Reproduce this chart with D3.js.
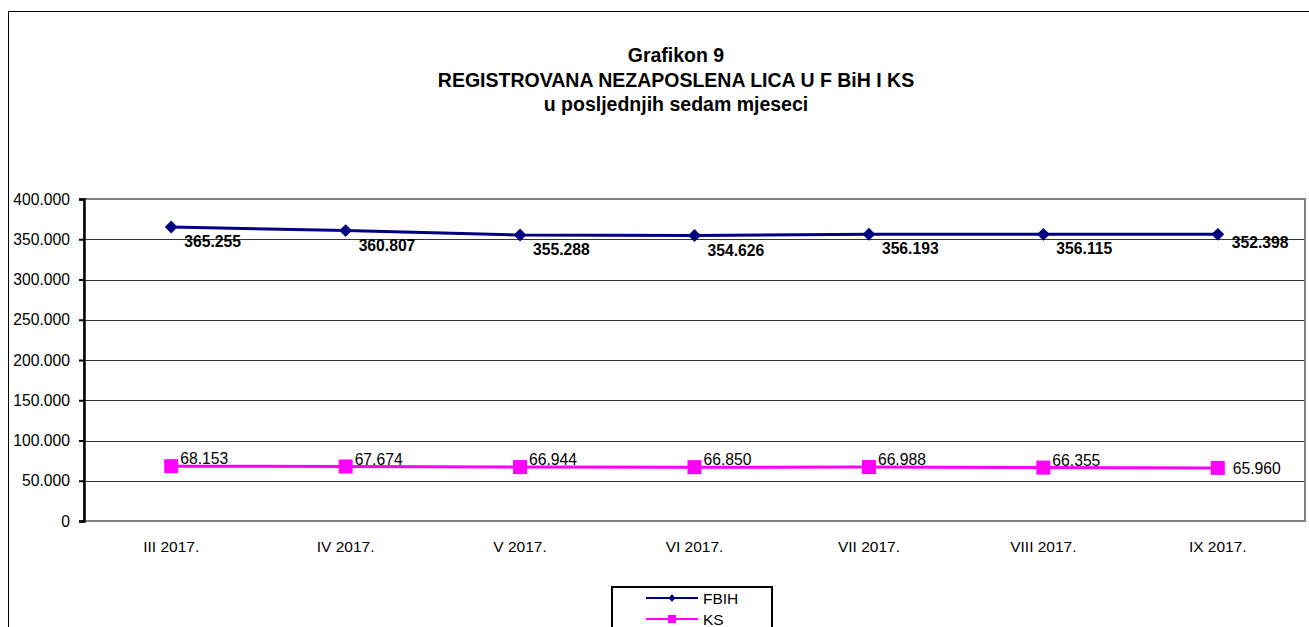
<!DOCTYPE html>
<html lang="bs">

<head>
  <meta charset="UTF-8">
  <title>Grafikon 9</title>
  <script src="https://cdn.jsdelivr.net/npm/d3@7.6.1/dist/d3.min.js"></script>
  <style>
    body { margin: 0; background: #fff; }
    svg { display: block; font-family: Arial, "Liberation Sans", sans-serif; }
  </style>
</head>

<body>
  <div id="box"></div>
  <script>
    const width = 1309
    const height = 627
    const margin = { left: 84, right: 4, top: 199, bottom: 106 }

    // podaci
    const months = ['III 2017.', 'IV 2017.', 'V 2017.', 'VI 2017.', 'VII 2017.', 'VIII 2017.', 'IX 2017.']
    // zadnja tacka je na grafu nacrtana oko 356.100, iako oznaka kaze 352.398
    const fbih = [365255, 360807, 355288, 354626, 356193, 356115, 356100]
    const fbihLabels = ['365.255', '360.807', '355.288', '354.626', '356.193', '356.115', '352.398']
    const ks = [68153, 67674, 66944, 66850, 66988, 66355, 65960]
    const ksLabels = ['68.153', '67.674', '66.944', '66.850', '66.988', '66.355', '65.960']
    const yTicks = [0, 50000, 100000, 150000, 200000, 250000, 300000, 350000, 400000]
    const titleLines = ['Grafikon 9', 'REGISTROVANA NEZAPOSLENA LICA U F BiH I KS', 'u posljednjih sedam mjeseci']

    const loc = d3.formatLocale({ decimal: ',', thousands: '.', grouping: [3], currency: ['', ''] })
    const fmt = loc.format(',')

    const svg = d3.select('#box').append('svg')
      .attr('width', width)
      .attr('height', height)

    // vanjski okvir
    svg.append('rect')
      .attr('x', 8.5).attr('y', 11.5)
      .attr('width', 1310).attr('height', 700)
      .attr('fill', 'none').attr('stroke', '#000').attr('stroke-width', 1)

    // naslov
    svg.append('g').selectAll('text').data(titleLines).join('text')
      .attr('x', 676)
      .attr('y', (d, i) => 62 + i * 24.5)
      .attr('text-anchor', 'middle')
      .attr('font-weight', 'bold')
      .attr('font-size', 19.5)
      .text(d => d)

    const xScale = d3.scaleBand().domain(months).range([margin.left, width - margin.right])
    const yScale = d3.scaleLinear().domain([0, 400000]).range([height - margin.bottom, margin.top])
    const cx = d => xScale(d) + xScale.bandwidth() / 2

    // mreža
    svg.append('g').selectAll('line').data(yTicks.slice(1, -1)).join('line')
      .attr('x1', margin.left).attr('x2', width - margin.right)
      .attr('y1', d => Math.round(yScale(d)) + 0.5).attr('y2', d => Math.round(yScale(d)) + 0.5)
      .attr('stroke', '#333').attr('stroke-width', 1)

    // okvir plota (sivi)
    svg.append('rect')
      .attr('x', margin.left).attr('y', margin.top)
      .attr('width', width - margin.right - margin.left)
      .attr('height', height - margin.bottom - margin.top)
      .attr('fill', 'none').attr('stroke', '#808080').attr('stroke-width', 2)

    // Y osa
    const yAxis = d3.axisLeft(yScale).tickValues(yTicks).tickFormat(fmt).tickSize(5).tickPadding(9)
    const gy = svg.append('g')
      .attr('transform', `translate(${margin.left},0)`)
      .call(yAxis)
    gy.select('.domain').attr('stroke', '#000').attr('stroke-width', 2.5)
    gy.selectAll('.tick line').attr('stroke', '#000').attr('stroke-width', 2)
    gy.selectAll('.tick text')
      .attr('font-size', 15.7).attr('font-family', 'Arial, "Liberation Sans", sans-serif').attr('fill', '#000')

    // X osa
    const xAxis = d3.axisBottom(xScale).tickSize(0).tickPadding(20)
    const gx = svg.append('g')
      .attr('transform', `translate(0,${height - margin.bottom})`)
      .call(xAxis)
    gx.select('.domain').remove()
    gx.selectAll('.tick text')
      .attr('font-size', 15.5).attr('font-family', 'Arial, "Liberation Sans", sans-serif').attr('fill', '#000')

    const line = d3.line().x((d, i) => cx(months[i])).y(d => yScale(d))
    const last = months.length - 1

    // FBIH
    svg.append('path').datum(fbih)
      .attr('d', line).attr('fill', 'none').attr('stroke', '#000080').attr('stroke-width', 3)
    svg.append('g').selectAll('path').data(fbih).join('path')
      .attr('d', d3.symbol(d3.symbolDiamond2, 105))
      .attr('transform', (d, i) => `translate(${cx(months[i])},${yScale(d)})`)
      .attr('fill', '#000080')
    svg.append('g').selectAll('text').data(fbih).join('text')
      .attr('x', (d, i) => cx(months[i]) + (i === last ? 14 : 13))
      .attr('y', (d, i) => yScale(d) + (i === last ? 14 : 20))
      .attr('font-size', 15.7).attr('font-weight', 'bold')
      .text((d, i) => fbihLabels[i])

    // KS
    svg.append('path').datum(ks)
      .attr('d', line).attr('fill', 'none').attr('stroke', '#ff00ff').attr('stroke-width', 3)
    svg.append('g').selectAll('rect').data(ks).join('rect')
      .attr('x', (d, i) => cx(months[i]) - 7)
      .attr('y', d => yScale(d) - 7)
      .attr('width', 14).attr('height', 14)
      .attr('fill', '#ff00ff')
    svg.append('g').selectAll('text').data(ks).join('text')
      .attr('x', (d, i) => cx(months[i]) + (i === last ? 15 : 9))
      .attr('y', (d, i) => yScale(d) + (i === last ? 6 : -2))
      .attr('font-size', 15.7)
      .text((d, i) => ksLabels[i])

    // legenda
    const lg = svg.append('g')
    lg.append('rect')
      .attr('x', 612).attr('y', 587).attr('width', 160).attr('height', 80)
      .attr('fill', '#fff').attr('stroke', '#000').attr('stroke-width', 2)
    const legend = [{ name: 'FBIH', color: '#000080' }, { name: 'KS', color: '#ff00ff' }]
    legend.forEach((s, i) => {
      const y = 598 + i * 21
      lg.append('line').attr('x1', 646).attr('x2', 698).attr('y1', y).attr('y2', y)
        .attr('stroke', s.color).attr('stroke-width', 2)
      if (i === 0) {
        lg.append('path').attr('d', d3.symbol(d3.symbolDiamond2, 34))
          .attr('transform', `translate(672,${y})`).attr('fill', s.color)
      } else {
        lg.append('rect').attr('x', 668).attr('y', y - 4).attr('width', 8).attr('height', 8).attr('fill', s.color)
      }
      lg.append('text').attr('x', 703).attr('y', y + 5.5)
        .attr('font-size', 15.5).text(s.name)
    })
  </script>
</body>

</html>
